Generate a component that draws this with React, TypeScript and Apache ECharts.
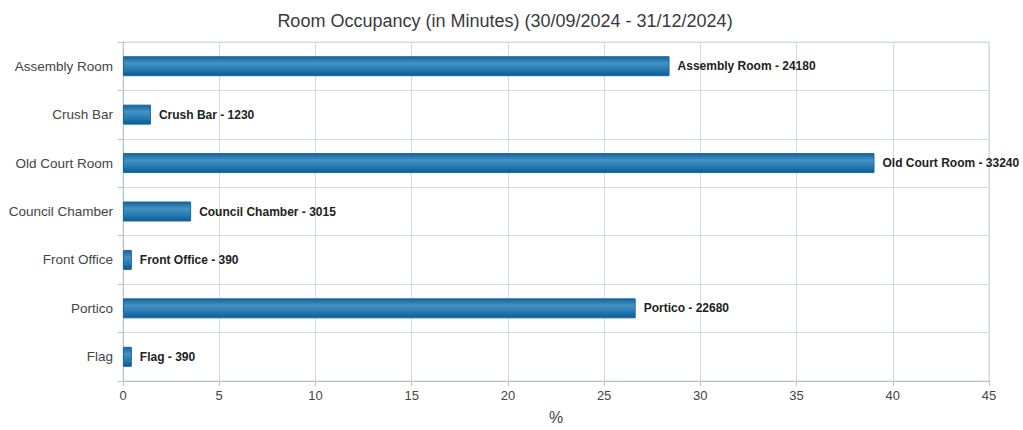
import React, { useEffect, useRef } from "react";
import * as echarts from "echarts";

const rooms = ["Assembly Room", "Crush Bar", "Old Court Room", "Council Chamber", "Front Office", "Portico", "Flag"];
const minutes = [24180, 1230, 33240, 3015, 390, 22680, 390];
const percents = [28.4, 1.45, 39.05, 3.54, 0.46, 26.64, 0.46];
const xTicks = { min: 0, max: 45, interval: 5 };
const titleText = "Room Occupancy (in Minutes) (30/09/2024 - 31/12/2024)";

export default function App() {
  const ref = useRef<HTMLDivElement>(null);
  useEffect(() => {
    const chart = echarts.init(ref.current!, null, { renderer: "svg" });
    const gridColor = "#d3dae0";
    chart.setOption({
      animation: false,
      backgroundColor: "#ffffff",
      textStyle: { fontFamily: "Liberation Sans, Arial, sans-serif" },
      title: {
        text: titleText,
        left: 500,
        textAlign: "center",
        top: 7,
        textStyle: { fontSize: 18, fontWeight: "normal", color: "#3a3a3a" },
      },
      grid: { left: 123, right: 34, top: 42, bottom: 47, show: true, borderColor: gridColor, borderWidth: 1 },
      xAxis: {
        type: "value",
        min: xTicks.min,
        max: xTicks.max,
        interval: xTicks.interval,
        name: "%",
        nameLocation: "middle",
        nameGap: 28,
        nameTextStyle: { fontSize: 16, color: "#444" },
        axisLine: { show: true, lineStyle: { color: "#b8c2ca" } },
        axisTick: { show: true, length: 5, lineStyle: { color: "#b8c2ca" } },
        axisLabel: { fontSize: 13, color: "#444", margin: 8 },
        splitLine: { show: true, lineStyle: { color: gridColor } },
      },
      yAxis: {
        type: "category",
        inverse: true,
        data: rooms,
        axisLine: { show: true, lineStyle: { color: "#b8c2ca" } },
        axisTick: { show: true, length: 5, lineStyle: { color: "#b8c2ca" } },
        axisLabel: { fontSize: 13.5, color: "#444", margin: 10 },
        splitLine: { show: true, lineStyle: { color: gridColor } },
      },
      series: [
        {
          type: "bar",
          data: percents,
          barWidth: 20,
          itemStyle: {
            color: new echarts.graphic.LinearGradient(0, 0, 0, 1, [
              { offset: 0, color: "#13649c" },
              { offset: 0.35, color: "#4592c4" },
              { offset: 0.7, color: "#2579b1" },
              { offset: 1, color: "#0d5a92" },
            ]),
            borderColor: "#1a6aa0",
            borderWidth: 1,
          },
          label: {
            show: true,
            position: "right",
            distance: 8,
            fontSize: 12,
            fontWeight: "bold",
            color: "#222",
            formatter: (p: any) => `${rooms[p.dataIndex]} - ${minutes[p.dataIndex]}`,
          },
        },
      ],
    });
    return () => chart.dispose();
  }, []);
  return <div ref={ref} style={{ position: "fixed", left: 0, top: 0, width: 1023, height: 430 }} />;
}
